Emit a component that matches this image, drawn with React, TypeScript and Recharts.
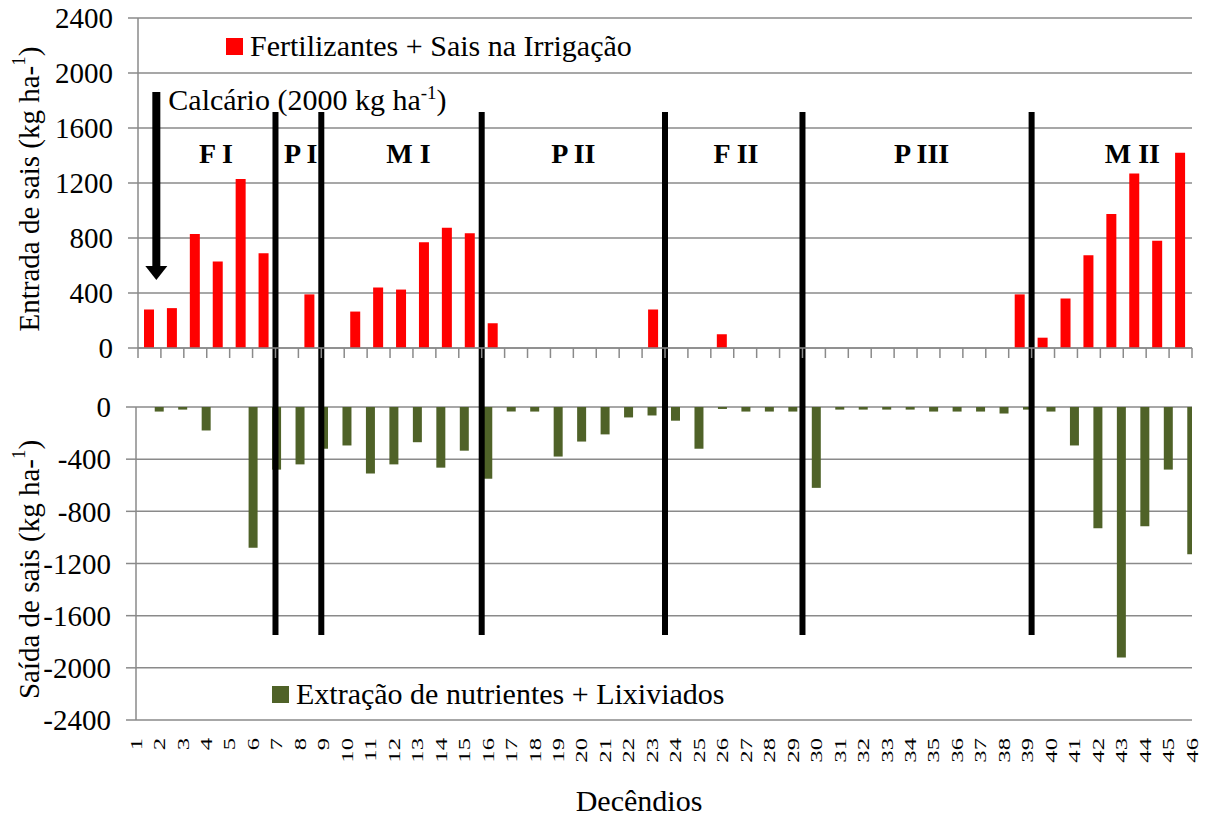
import React from "react";
import { BarChart, Bar, XAxis, YAxis, CartesianGrid, ReferenceLine, ReferenceDot, Legend } from "recharts";

const SERIF = '"Liberation Serif", "Times New Roman", serif';
const GRID = "#8a8a8a";
const W = 1215;
const H = 816;

const decendios = [
  1, 2, 3, 4, 5, 6, 7, 8, 9, 10, 11, 12, 13, 14, 15, 16, 17, 18, 19, 20, 21, 22, 23,
  24, 25, 26, 27, 28, 29, 30, 31, 32, 33, 34, 35, 36, 37, 38, 39, 40, 41, 42, 43, 44, 45, 46,
];

// Fertilizantes + Sais na Irrigação (kg ha-1)
const entrada = [
  280, 290, 830, 630, 1230, 690, 0, 390, 0, 265, 440, 425, 770, 875, 835, 180,
  0, 0, 0, 0, 0, 0, 280, 0, 0, 100, 0, 0, 0, 0, 0, 0, 0, 0, 0, 0, 0, 0,
  390, 75, 360, 675, 975, 1270, 780, 1420,
];

// Extração de nutrientes + Lixiviados (kg ha-1)
const saida = [
  0, -35, -20, -180, 0, -1080, -480, -440, -320, -295, -510, -440, -270, -465, -335, -550,
  -35, -35, -380, -265, -210, -80, -65, -105, -320, -15, -35, -35, -35, -620,
  -20, -20, -20, -20, -35, -35, -35, -50, -20, -35, -295, -930, -1920, -915, -480, -1130,
];

const yTopTicks = [0, 400, 800, 1200, 1600, 2000, 2400];
const yBottomTicks = [-2400, -2000, -1600, -1200, -800, -400, 0];

// fases: limites entre decêndios e rótulos
const phaseBounds = [6.5, 8.5, 15.5, 23.5, 29.5, 39.5];
const phaseNames = ["F I", "P I", "M I", "P II", "F II", "P III", "M II"];
const phaseLabelX = [3.9, 7.6, 12.3, 19.5, 26.6, 34.7, 43.9];

const topData = decendios.map((d, i) => ({ d, v: entrada[i] }));
const bottomData = decendios.map((d, i) => ({ d, v: saida[i] }));
const bandEdges = [...decendios.map((d) => d - 0.5), 46.5];

const axisStroke = { stroke: GRID, strokeWidth: 1.5 };
const tickFont = { fill: "#000", fontSize: 29, fontFamily: SERIF };

const YTitle = ({ viewBox, text }: any) => {
  const cy = viewBox ? viewBox.y + viewBox.height / 2 + 6 : 0;
  return (
    <text
      transform={`translate(29, ${cy}) rotate(-90)`}
      textAnchor="middle"
      dominantBaseline="central"
      fontSize={29}
      fontFamily={SERIF}
      fill="#000"
    >
      {text}
      <tspan dy={-11} fontSize={19}>1</tspan>
      <tspan dy={11}>)</tspan>
    </text>
  );
};

const LegendBox = ({ payload }: any) => (
  <div style={{ display: "flex", alignItems: "center", fontFamily: SERIF, fontSize: 30, color: "#000", whiteSpace: "nowrap" }}>
    {(payload || []).map((e: any) => (
      <React.Fragment key={e.value}>
        <span style={{ display: "inline-block", width: 17, height: 17, background: e.color, marginRight: 7 }} />
        <span>{e.value}</span>
      </React.Fragment>
    ))}
  </div>
);

const CalcArrow = (p: any) => {
  const { x1, y1, x2, y2 } = p;
  return (
    <g>
      <line x1={x1} y1={y1} x2={x2} y2={y2 - 12} stroke="#000" strokeWidth={8} />
      <polygon points={`${x2 - 11},${y2 - 14} ${x2 + 11},${y2 - 14} ${x2},${y2}`} fill="#000" />
      <text x={x1 + 12} y={y1 + 18} fontSize={30} fontFamily={SERIF} fill="#000">
        Calcário (2000 kg ha
        <tspan dy={-11} fontSize={19}>-1</tspan>
        <tspan dy={11}>)</tspan>
      </text>
    </g>
  );
};

const DecTick = ({ x, y, payload }: any) => (
  <text
    transform={`translate(${x}, ${y + 18}) rotate(-90) scale(1.45, 1)`}
    textAnchor="end"
    dominantBaseline="central"
    fontSize={17}
    fontFamily={SERIF}
    fill="#000"
  >
    {payload.value}
  </text>
);

export default function App() {
  return (
    <div style={{ position: "absolute", left: 0, top: 0, width: W, height: H, background: "#fff" }}>
      <div style={{ position: "absolute", left: 0, top: 0 }}>
        <BarChart width={W} height={H} data={bottomData} margin={{ top: 407, right: 23, bottom: 46, left: 56 }}>
          <CartesianGrid vertical={false} stroke={GRID} strokeWidth={1.5} />
          <XAxis
            type="number"
            dataKey="d"
            domain={[1, 46]}
            ticks={decendios}
            interval={0}
            height={50}
            tickSize={0}
            tickMargin={0}
            tickLine={false}
            axisLine={false}
            allowDataOverflow
            tick={<DecTick />}
            label={{ value: "Decêndios", position: "bottom", offset: 20, dx: -25, fill: "#000", fontSize: 30, fontFamily: SERIF }}
          />
          <XAxis
            xAxisId="zero"
            orientation="top"
            mirror
            type="number"
            domain={[1, 46]}
            ticks={decendios}
            interval={0}
            height={0}
            tickSize={6}
            tickFormatter={() => ""}
            axisLine={axisStroke}
            tickLine={axisStroke}
          />
          <YAxis
            domain={[-2400, 0]}
            ticks={yBottomTicks}
            interval={0}
            width={80}
            tickSize={10}
            tickMargin={15}
            axisLine={axisStroke}
            tickLine={axisStroke}
            tick={tickFont}
            label={<YTitle text="Saída de sais (kg ha-" />}
          />
          <Bar dataKey="v" name="Extração de nutrientes + Lixiviados" fill="#4F6228" barSize={9} isAnimationActive={false} />
          <Legend
            layout="vertical"
            verticalAlign="middle"
            align="center"
            content={<LegendBox />}
            wrapperStyle={{ left: 272, top: 677, width: "auto" }}
          />
        </BarChart>
      </div>
      <div style={{ position: "absolute", left: 0, top: 0 }}>
        <BarChart width={W} height={H} data={topData} margin={{ top: 18, right: 23, bottom: 458, left: 58 }}>
          <CartesianGrid vertical={false} stroke={GRID} strokeWidth={1.5} />
          <XAxis
            type="number"
            dataKey="d"
            domain={[0.5, 46.5]}
            ticks={bandEdges}
            interval={0}
            height={10}
            tickSize={10}
            tickFormatter={() => ""}
            axisLine={axisStroke}
            tickLine={axisStroke}
          />
          <YAxis
            domain={[0, 2400]}
            ticks={yTopTicks}
            interval={0}
            width={80}
            tickSize={10}
            tickMargin={15}
            axisLine={axisStroke}
            tickLine={axisStroke}
            tick={tickFont}
            label={<YTitle text="Entrada de sais (kg ha-" />}
          />
          <Bar dataKey="v" name="Fertilizantes + Sais na Irrigação" fill="#FF0000" barSize={10} isAnimationActive={false} />
          <Legend
            layout="vertical"
            verticalAlign="middle"
            align="center"
            content={<LegendBox />}
            wrapperStyle={{ left: 226, top: 29, width: "auto" }}
          />
          {phaseBounds.map((b) => (
            <ReferenceLine
              key={b}
              segment={[{ x: b, y: 1716 }, { x: b, y: -2087 }]}
              stroke="#000"
              strokeWidth={6}
              ifOverflow="visible"
            />
          ))}
          {phaseNames.map((n, i) => (
            <ReferenceDot
              key={n}
              x={phaseLabelX[i]}
              y={1420}
              r={1}
              fill="none"
              stroke="none"
              ifOverflow="visible"
              label={{ value: n, position: "center", fill: "#000", fontSize: 28, fontWeight: "bold", fontFamily: SERIF }}
            />
          ))}
          <ReferenceLine segment={[{ x: 1.3, y: 1862 }, { x: 1.3, y: 495 }]} ifOverflow="visible" shape={CalcArrow} />
        </BarChart>
      </div>
    </div>
  );
}
